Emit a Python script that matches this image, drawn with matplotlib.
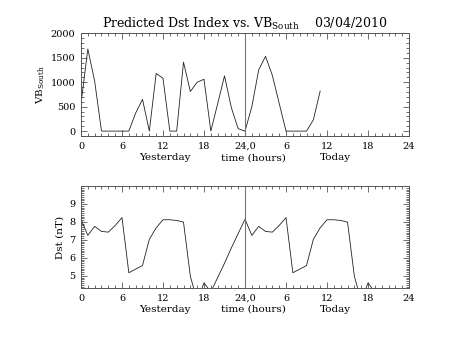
import numpy as np
import matplotlib
matplotlib.use('Agg')
import matplotlib.pyplot as plt
from matplotlib.ticker import MultipleLocator

plt.rcParams['font.family'] = 'DejaVu Serif'
plt.rcParams['mathtext.fontset'] = 'custom'
plt.rcParams['mathtext.rm'] = 'DejaVu Serif'

# hourly values, hour 0 = midnight yesterday
horas_vb = list(range(36))
vb_south = [560, 1680, 1020, 0, 0, 0, 0, 0, 370, 650, 0, 1180,
            1080, 0, 0, 1410, 810, 1000, 1060, 0, 560, 1130, 480, 50,
            0, 500, 1250, 1530, 1140, 570, 0, 0, 0, 0, 230, 820]

horas_dst = list(range(44))
dst = [8.15, 7.25, 7.75, 7.47, 7.43, 7.8, 8.24, 5.17, 5.37, 5.57, 7.03, 7.67,
       8.12, 8.12, 8.08, 7.99, 4.98, 3.6, 4.6, 4.1, 4.9, 5.7, 6.55, 7.35,
       8.15, 7.25, 7.75, 7.47, 7.43, 7.8, 8.24, 5.17, 5.37, 5.57, 7.03, 7.67,
       8.12, 8.12, 8.08, 7.99, 4.98, 3.6, 4.6, 4.1]

rotulos_x = ['0', '6', '12', '18', '24,0', '6', '12', '18', '24']

fig = plt.figure(figsize=(4.53, 3.40), dpi=100)
ax1 = fig.add_axes([0.1788, 0.600, 0.7241, 0.302])
ax2 = fig.add_axes([0.1788, 0.153, 0.7241, 0.300])

cinza = '#555555'

def eixo(ax):
    ax.set_xlim(0, 48)
    ax.set_xticks(range(0, 49, 6))
    ax.set_xticklabels(rotulos_x)
    ax.xaxis.set_minor_locator(MultipleLocator(1))
    ax.tick_params(which='both', direction='in', top=True, right=True,
                   labelsize=7, color=cinza, width=0.6, pad=4)
    ax.tick_params(which='major', length=4)
    ax.tick_params(which='minor', length=2)
    for s in ax.spines.values():
        s.set_color(cinza)
        s.set_linewidth(0.7)
    ax.axvline(24, color='#777777', lw=0.8)
    ax.text(12.3, -0.21, 'Yesterday', transform=ax.get_xaxis_transform(),
            ha='center', va='center', fontsize=7.5)
    ax.text(25.2, -0.21, 'time (hours)', transform=ax.get_xaxis_transform(),
            ha='center', va='center', fontsize=7.5)
    ax.text(37.2, -0.21, 'Today', transform=ax.get_xaxis_transform(),
            ha='center', va='center', fontsize=7.5)

# painel de cima: VB sul
ax1.plot(horas_vb, vb_south, color='#222222', lw=0.6)
ax1.set_ylim(-100, 2000)
ax1.set_yticks([0, 500, 1000, 1500, 2000])
ax1.yaxis.set_minor_locator(MultipleLocator(100))
eixo(ax1)
ax1.set_ylabel(r'VB$_{\rm South}$', fontsize=7.5, labelpad=3)
ax1.set_title(r'Predicted Dst Index vs. VB$_{\rm South}$    03/04/2010',
              fontsize=9, pad=4)

# painel de baixo: Dst
ax2.plot(horas_dst, dst, color='#222222', lw=0.6)
ax2.set_ylim(4.32, 10)
ax2.set_yticks([5, 6, 7, 8, 9])
ax2.yaxis.set_minor_locator(MultipleLocator(0.1))
eixo(ax2)
ax2.set_ylabel('Dst (nT)', fontsize=7.5, labelpad=3)

fig.savefig('out.png', dpi=100)
